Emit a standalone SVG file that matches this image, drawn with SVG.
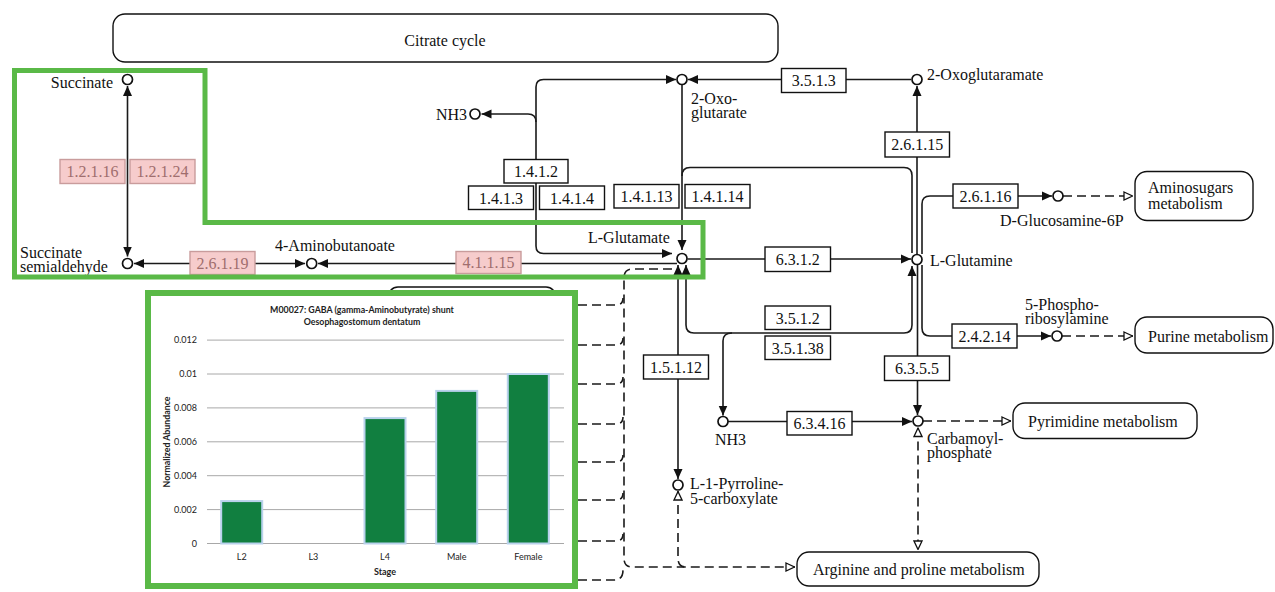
<svg xmlns="http://www.w3.org/2000/svg" width="1275" height="592" viewBox="0 0 1275 592">
  <style>
    .lbl { font-family: "Liberation Serif", "Times New Roman", serif; font-size: 16px; fill: #111; }
    .ec rect { fill: #fff; stroke: #111; stroke-width: 1.4; }
    .ec text { font-family: "Liberation Serif", "Times New Roman", serif; font-size: 16px; fill: #111; text-anchor: middle; }
    .ec.hit rect { fill: #f6cccc; stroke: #c99c9c; }
    .ec.hit text { fill: #a06e6e; }
    .map rect { fill: #fff; stroke: #111; stroke-width: 1.4; }
    .cpd circle { fill: #fff; stroke: #111; stroke-width: 1.7; }
    .ln { fill: none; stroke: #1a1a1a; stroke-width: 1.6; }
    .dash { fill: none; stroke: #1a1a1a; stroke-width: 1.6; stroke-dasharray: 9 5; }
    .frame { fill: none; stroke: #5ab947; stroke-width: 5; }
    .ch { font-family: Lato, "Liberation Sans", sans-serif; fill: #222; }
    .grid { stroke: #a8a8a8; stroke-width: 1; }
    .bar { fill: #117f40; stroke: #b9d1ec; stroke-width: 2; }
  </style>
  <defs>
    <marker id="ah" viewBox="0 0 10 10" refX="10" refY="5" markerWidth="10" markerHeight="10" markerUnits="userSpaceOnUse" orient="auto-start-reverse">
      <path d="M0,0.5 L10,5 L0,9.5 Z" fill="#111"/>
    </marker>
    <marker id="oh" viewBox="0 0 10 10" refX="10" refY="5" markerWidth="10" markerHeight="10" markerUnits="userSpaceOnUse" orient="auto-start-reverse">
      <path d="M1,1 L9.5,5 L1,9 Z" fill="#fff" stroke="#111" stroke-width="1.3"/>
    </marker>
  </defs>

  <rect width="1275" height="592" fill="#fff"/>

  <!-- pathway map links -->
  <g id="map-citrate" class="map">
    <rect x="113" y="14" width="665" height="48" rx="12"/>
    <text class="lbl" x="445" y="46" text-anchor="middle">Citrate cycle</text>
  </g>
  <g id="map-aminosugars" class="map">
    <rect x="1135" y="171.5" width="118" height="49" rx="12"/>
    <text class="lbl" x="1148" y="193">Aminosugars</text>
    <text class="lbl" x="1148" y="208.5">metabolism</text>
  </g>
  <g id="map-purine" class="map">
    <rect x="1135" y="317" width="138" height="36" rx="12"/>
    <text class="lbl" x="1148" y="341.5">Purine metabolism</text>
  </g>
  <g id="map-pyrimidine" class="map">
    <rect x="1013" y="403" width="184" height="35.5" rx="12"/>
    <text class="lbl" x="1028" y="426.5">Pyrimidine metabolism</text>
  </g>
  <g id="map-arginine" class="map">
    <rect x="797" y="552" width="242" height="34" rx="12"/>
    <text class="lbl" x="813" y="575">Arginine and proline metabolism</text>
  </g>
  <g id="map-hidden" class="map">
    <rect x="388" y="287" width="168" height="40" rx="10"/>
  </g>

  <!-- connectors -->
  <g id="connectors">
    <path class="ln" d="M127.5,86 V256.5" marker-start="url(#ah)" marker-end="url(#ah)"/>
    <path class="ln" d="M134,263.5 H305" marker-start="url(#ah)" marker-end="url(#ah)"/>
    <path class="ln" d="M318,263.5 H677" marker-start="url(#ah)"/>
    <path class="ln" d="M536,160 V87 Q536,79.5 543.5,79.5 H676" marker-end="url(#ah)"/>
    <path class="ln" d="M536,160 V246 Q536,253.5 543.5,253.5 H672" marker-end="url(#ah)"/>
    <path class="ln" d="M536,122 Q536,114 528,114 H481.5" marker-end="url(#ah)"/>
    <path class="ln" d="M911,79.5 H688" marker-end="url(#ah)"/>
    <path class="ln" d="M682,85 V250" marker-end="url(#ah)"/>
    <path class="ln" d="M682,176 Q682,167.5 690,167.5 H904 Q912,167.5 912,175.5 V253"/>
    <path class="ln" d="M917,254 V86" marker-end="url(#ah)"/>
    <path class="ln" d="M922,254 V204 Q922,196 930,196 H1052" marker-end="url(#ah)"/>
    <path class="dash" d="M1063,196 H1133" marker-end="url(#oh)"/>
    <path class="ln" d="M687.5,259 H911" marker-end="url(#ah)"/>
    <path class="ln" d="M686,265 V325 Q686,333 694,333 H904 Q912,333 912,325 V266" marker-start="url(#ah)" marker-end="url(#ah)"/>
    <path class="ln" d="M732,333 Q723,333 723,341 V415.5" marker-end="url(#ah)"/>
    <path class="ln" d="M678,265 V479" marker-start="url(#ah)" marker-end="url(#ah)"/>
    <path class="ln" d="M917.5,265 V415" marker-end="url(#ah)"/>
    <path class="ln" d="M922,265 V328 Q922,336 930,336 H1051" marker-end="url(#ah)"/>
    <path class="dash" d="M1062,336 H1133" marker-end="url(#oh)"/>
    <path class="ln" d="M728,421.5 H912" marker-end="url(#ah)"/>
    <path class="dash" d="M923,421 H1011" marker-end="url(#oh)"/>
    <path class="dash" d="M918,427.5 V550" marker-start="url(#oh)" marker-end="url(#oh)"/>
    <path class="dash" d="M678,491 V558 Q678,567 686,567" marker-start="url(#oh)"/>
    <path class="dash" d="M672,269 H633 Q624,269 624,278 V558 Q624,567 632,567 H795" marker-end="url(#oh)"/>
    <path class="dash" d="M578,305 H616 Q623,305 623,298"/>
    <path class="dash" d="M578,345 H616 Q623,345 623,338"/>
    <path class="dash" d="M578,384 H616 Q623,384 623,377"/>
    <path class="dash" d="M578,424 H616 Q623,424 623,417"/>
    <path class="dash" d="M578,462 H616 Q623,462 623,455"/>
    <path class="dash" d="M578,500 H616 Q623,500 623,493"/>
    <path class="dash" d="M578,541 H616 Q623,541 623,534"/>
    <path class="dash" d="M578,580 H614 Q623,580 623,570"/>
  </g>

  <!-- enzymes -->
  <g id="ec-1.2.1.16" class="ec hit"><rect x="60" y="159.5" width="65" height="24"/><text x="92.5" y="177">1.2.1.16</text></g>
  <g id="ec-1.2.1.24" class="ec hit"><rect x="130" y="159.5" width="65" height="24"/><text x="162.5" y="177">1.2.1.24</text></g>
  <g id="ec-2.6.1.19" class="ec hit"><rect x="190" y="251.5" width="65" height="23"/><text x="222.5" y="268.5">2.6.1.19</text></g>
  <g id="ec-4.1.1.15" class="ec hit"><rect x="456" y="251.5" width="65" height="22"/><text x="488.5" y="268">4.1.1.15</text></g>
  <g id="ec-1.4.1.2" class="ec"><rect x="504" y="159.5" width="64" height="23.5"/><text x="536" y="177">1.4.1.2</text></g>
  <g id="ec-1.4.1.3" class="ec"><rect x="468.5" y="186" width="65" height="23.5"/><text x="501" y="203.5">1.4.1.3</text></g>
  <g id="ec-1.4.1.4" class="ec"><rect x="539.5" y="186" width="65" height="23.5"/><text x="572" y="203.5">1.4.1.4</text></g>
  <g id="ec-1.4.1.13" class="ec"><rect x="614" y="184.5" width="65" height="23.5"/><text x="646.5" y="202">1.4.1.13</text></g>
  <g id="ec-1.4.1.14" class="ec"><rect x="685" y="184.5" width="65" height="23.5"/><text x="717.5" y="202">1.4.1.14</text></g>
  <g id="ec-3.5.1.3" class="ec"><rect x="781.5" y="68.5" width="64.5" height="24"/><text x="813.7" y="86">3.5.1.3</text></g>
  <g id="ec-2.6.1.15" class="ec"><rect x="885" y="132" width="64.5" height="25"/><text x="917.2" y="150">2.6.1.15</text></g>
  <g id="ec-2.6.1.16" class="ec"><rect x="953" y="184" width="65" height="24"/><text x="985.5" y="201.5">2.6.1.16</text></g>
  <g id="ec-6.3.1.2" class="ec"><rect x="765" y="247" width="65.5" height="24.5"/><text x="797.7" y="264.7">6.3.1.2</text></g>
  <g id="ec-3.5.1.2" class="ec"><rect x="765" y="306" width="65.5" height="23.5"/><text x="797.7" y="323.5">3.5.1.2</text></g>
  <g id="ec-3.5.1.38" class="ec"><rect x="765" y="336" width="65.5" height="23.5"/><text x="797.7" y="353.5">3.5.1.38</text></g>
  <g id="ec-1.5.1.12" class="ec"><rect x="643.5" y="355" width="65" height="24"/><text x="676" y="372.5">1.5.1.12</text></g>
  <g id="ec-6.3.5.5" class="ec"><rect x="884.5" y="356" width="65" height="24.5"/><text x="917" y="373.7">6.3.5.5</text></g>
  <g id="ec-6.3.4.16" class="ec"><rect x="787" y="411.5" width="65" height="23.5"/><text x="819.5" y="429">6.3.4.16</text></g>
  <g id="ec-2.4.2.14" class="ec"><rect x="952" y="324" width="65" height="24"/><text x="984.5" y="341.5">2.4.2.14</text></g>

  <!-- compounds -->
  <g id="cpd-succinate" class="cpd"><circle cx="127.5" cy="79.5" r="5"/><text class="lbl" x="113" y="88" text-anchor="end">Succinate</text></g>
  <g id="cpd-succinate-semialdehyde" class="cpd"><circle cx="127.5" cy="263.5" r="5"/><text class="lbl" x="20" y="257.5">Succinate</text><text class="lbl" x="20" y="271.5">semialdehyde</text></g>
  <g id="cpd-4-aminobutanoate" class="cpd"><circle cx="311.7" cy="263.5" r="5"/><text class="lbl" x="275" y="251">4-Aminobutanoate</text></g>
  <g id="cpd-l-glutamate" class="cpd"><circle cx="682" cy="258.5" r="5"/><text class="lbl" x="588" y="243">L-Glutamate</text></g>
  <g id="cpd-2-oxoglutarate" class="cpd"><circle cx="682" cy="79.5" r="5"/><text class="lbl" x="691" y="103.5">2-Oxo-</text><text class="lbl" x="691" y="117.5">glutarate</text></g>
  <g id="cpd-nh3-a" class="cpd"><circle cx="475" cy="114" r="5"/><text class="lbl" x="467" y="120" text-anchor="end">NH3</text></g>
  <g id="cpd-2-oxoglutaramate" class="cpd"><circle cx="917" cy="79.5" r="5"/><text class="lbl" x="927" y="80">2-Oxoglutaramate</text></g>
  <g id="cpd-l-glutamine" class="cpd"><circle cx="917" cy="259.5" r="5"/><text class="lbl" x="930" y="265.5">L-Glutamine</text></g>
  <g id="cpd-d-glucosamine-6p" class="cpd"><circle cx="1058" cy="196" r="5"/><text class="lbl" x="1000" y="226">D-Glucosamine-6P</text></g>
  <g id="cpd-5-phosphoribosylamine" class="cpd"><circle cx="1057" cy="336" r="5"/><text class="lbl" x="1025" y="309.5">5-Phospho-</text><text class="lbl" x="1025" y="323.5">ribosylamine</text></g>
  <g id="cpd-carbamoyl-phosphate" class="cpd"><circle cx="918" cy="421" r="5"/><text class="lbl" x="927" y="444">Carbamoyl-</text><text class="lbl" x="927" y="457.5">phosphate</text></g>
  <g id="cpd-nh3-b" class="cpd"><circle cx="723" cy="421.5" r="5"/><text class="lbl" x="715" y="445">NH3</text></g>
  <g id="cpd-l-1-pyrroline-5-carboxylate" class="cpd"><circle cx="678" cy="485" r="5"/><text class="lbl" x="690" y="488.5">L-1-Pyrroline-</text><text class="lbl" x="690" y="503.5">5-carboxylate</text></g>

  <!-- GABA shunt highlight -->
  <path id="gaba-outline" class="frame" d="M14.5,70.5 H205 V222.5 H703 V277 H14.5 Z"/>

  <!-- abundance chart panel -->
  <g id="chart">
    <rect x="148" y="293" width="427" height="293" fill="#fff" stroke="#5ab947" stroke-width="6"/>
    <text class="ch" x="362" y="313" font-size="8.8" font-weight="bold" text-anchor="middle">M00027: GABA (gamma-Aminobutyrate) shunt</text>
    <text class="ch" x="362" y="325" font-size="8.8" font-weight="bold" text-anchor="middle">Oesophagostomum dentatum</text>
    <g>
      <line class="grid" x1="207" y1="340.1" x2="564" y2="340.1"/>
      <line class="grid" x1="207" y1="374" x2="564" y2="374"/>
      <line class="grid" x1="207" y1="407.9" x2="564" y2="407.9"/>
      <line class="grid" x1="207" y1="441.8" x2="564" y2="441.8"/>
      <line class="grid" x1="207" y1="475.7" x2="564" y2="475.7"/>
      <line class="grid" x1="207" y1="509.6" x2="564" y2="509.6"/>
      <line class="grid" x1="207" y1="543.5" x2="564" y2="543.5"/>
    </g>
    <g class="ch" font-size="9" text-anchor="end">
      <text x="197" y="343.3">0.012</text>
      <text x="197" y="377.2">0.01</text>
      <text x="197" y="411.1">0.008</text>
      <text x="197" y="445">0.006</text>
      <text x="197" y="478.9">0.004</text>
      <text x="197" y="512.8">0.002</text>
      <text x="197" y="546.7">0</text>
    </g>
    <text class="ch" font-size="8.8" font-weight="bold" text-anchor="middle" transform="translate(169.5,442) rotate(-90)">Normalized Abundance</text>
    <rect class="bar" x="221.2" y="501.1" width="41" height="42.4"/>
    <rect class="bar" x="364.5" y="418.1" width="41" height="125.4"/>
    <rect class="bar" x="436.2" y="390.9" width="41" height="152.6"/>
    <rect class="bar" x="507.8" y="374" width="41" height="169.5"/>
    <g class="ch" font-size="9" text-anchor="middle">
      <text x="241.7" y="559.8">L2</text>
      <text x="313.3" y="559.8">L3</text>
      <text x="385" y="559.8">L4</text>
      <text x="456.7" y="559.8">Male</text>
      <text x="528.3" y="559.8">Female</text>
    </g>
    <text class="ch" x="385" y="575" font-size="9" font-weight="bold" text-anchor="middle">Stage</text>
  </g>
</svg>
